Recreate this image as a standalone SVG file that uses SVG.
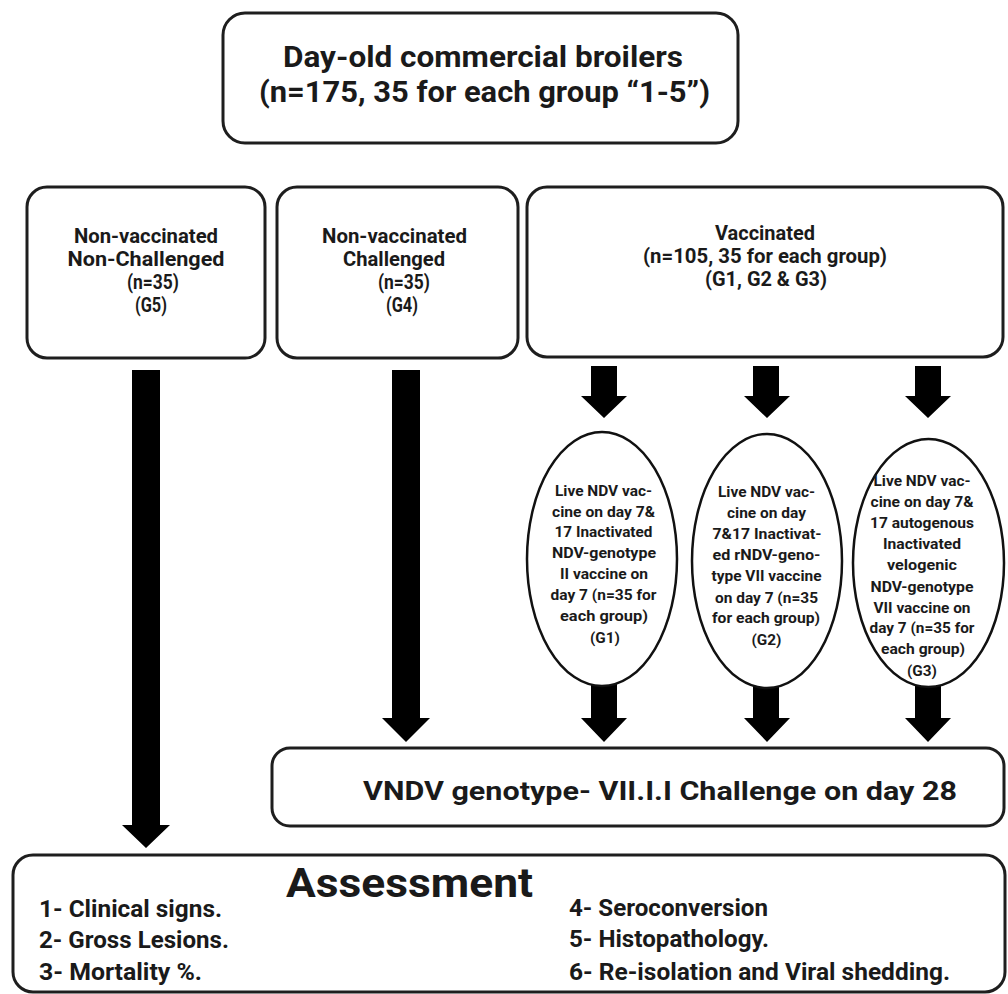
<svg xmlns="http://www.w3.org/2000/svg" width="1008" height="994" viewBox="0 0 1008 994">
<style>
  .box { fill: #fff; stroke: #1e1e1e; stroke-width: 3; }
  .ell { fill: #fff; stroke: #111; stroke-width: 2.5; }
  .arr { fill: #000; }
  text { font-family: Roboto, "Liberation Sans", "DejaVu Sans", sans-serif; font-weight: 700; fill: #1a1a1a; }
  .c { text-anchor: middle; }
  .t1 { font-size: 30px; }
  .t2 { font-size: 21px; }
  .t3 { font-size: 15.5px; }
  .t4 { font-size: 26px; }
  .t5 { font-size: 40px; }
  .t6 { font-size: 23px; }
</style>
<rect width="1008" height="994" fill="#fff"/>

<g id="connectors">
  <polygon class="arr" points="132,370 160,370 160,825 170,825 146,848 122,825 132,825"/>
  <polygon class="arr" points="392,370 420,370 420,718 430,718 406,742 382,718 392,718"/>
  <polygon class="arr" points="591,366 617,366 617,396 627,396 604,418 581,396 591,396"/>
  <polygon class="arr" points="753,366 779,366 779,396 790,396 767,418 744,396 753,396"/>
  <polygon class="arr" points="915,366 941,366 941,396 951,396 928,418 905,396 915,396"/>
  <polygon class="arr" points="591,680 617,680 617,718 627,718 604,742 581,718 591,718"/>
  <polygon class="arr" points="753,680 779,680 779,718 790,718 767,742 744,718 753,718"/>
  <polygon class="arr" points="915,680 941,680 941,718 951,718 928,742 905,718 915,718"/>
</g>

<g id="start">
  <rect class="box" x="223" y="13" width="515" height="130" rx="22"/>
  <text class="c t1" x="483" y="67" textLength="400" lengthAdjust="spacingAndGlyphs">Day-old commercial broilers</text>
  <text class="c t1" x="484.5" y="102" textLength="451" lengthAdjust="spacingAndGlyphs">(n=175, 35 for each group “1-5”)</text>
</g>

<g id="g5">
  <rect class="box" x="27" y="187" width="238" height="171" rx="20"/>
  <text class="c t2" x="146" y="243" textLength="144" lengthAdjust="spacingAndGlyphs">Non-vaccinated</text>
  <text class="c t2" x="146" y="266" textLength="157" lengthAdjust="spacingAndGlyphs">Non-Challenged</text>
  <text class="c t2" x="153" y="289" textLength="52" lengthAdjust="spacingAndGlyphs">(n=35)</text>
  <text class="c t2" x="151" y="312" textLength="32" lengthAdjust="spacingAndGlyphs">(G5)</text>
</g>

<g id="g4">
  <rect class="box" x="277" y="187" width="241" height="171" rx="20"/>
  <text class="c t2" x="394.5" y="243" textLength="145" lengthAdjust="spacingAndGlyphs">Non-vaccinated</text>
  <text class="c t2" x="394" y="266" textLength="102" lengthAdjust="spacingAndGlyphs">Challenged</text>
  <text class="c t2" x="404" y="289" textLength="52" lengthAdjust="spacingAndGlyphs">(n=35)</text>
  <text class="c t2" x="402" y="312" textLength="32" lengthAdjust="spacingAndGlyphs">(G4)</text>
</g>

<g id="vaccinated">
  <rect class="box" x="527" y="187" width="476" height="170" rx="20"/>
  <text class="c t2" x="765" y="240" textLength="100" lengthAdjust="spacingAndGlyphs">Vaccinated</text>
  <text class="c t2" x="765" y="263" textLength="244" lengthAdjust="spacingAndGlyphs">(n=105, 35 for each group)</text>
  <text class="c t2" x="766" y="286" textLength="122" lengthAdjust="spacingAndGlyphs">(G1, G2 &amp; G3)</text>
</g>

<g id="g1">
  <ellipse class="ell" cx="602" cy="559" rx="75" ry="127"/>
  <text class="c t3" x="603.5" y="496" textLength="97" lengthAdjust="spacingAndGlyphs">Live NDV vac-</text>
  <text class="c t3" x="603.5" y="517" textLength="103" lengthAdjust="spacingAndGlyphs">cine on day 7&amp;</text>
  <text class="c t3" x="603.5" y="537" textLength="98" lengthAdjust="spacingAndGlyphs">17 Inactivated</text>
  <text class="c t3" x="604" y="558" textLength="104" lengthAdjust="spacingAndGlyphs">NDV-genotype</text>
  <text class="c t3" x="604" y="579" textLength="88" lengthAdjust="spacingAndGlyphs">II vaccine on</text>
  <text class="c t3" x="603.5" y="600" textLength="106" lengthAdjust="spacingAndGlyphs">day 7 (n=35 for</text>
  <text class="c t3" x="604" y="621" textLength="88" lengthAdjust="spacingAndGlyphs">each group)</text>
  <text class="c t3" x="605" y="643" textLength="30" lengthAdjust="spacingAndGlyphs">(G1)</text>
</g>

<g id="g2">
  <ellipse class="ell" cx="767" cy="561" rx="75" ry="127"/>
  <text class="c t3" x="766.5" y="497" textLength="97" lengthAdjust="spacingAndGlyphs">Live NDV vac-</text>
  <text class="c t3" x="766.5" y="518" textLength="79" lengthAdjust="spacingAndGlyphs">cine on day</text>
  <text class="c t3" x="767" y="539" textLength="109" lengthAdjust="spacingAndGlyphs">7&amp;17 Inactivat-</text>
  <text class="c t3" x="766.5" y="560" textLength="108" lengthAdjust="spacingAndGlyphs">ed rNDV-geno-</text>
  <text class="c t3" x="766.5" y="581" textLength="110" lengthAdjust="spacingAndGlyphs">type VII vaccine</text>
  <text class="c t3" x="766.5" y="603" textLength="103" lengthAdjust="spacingAndGlyphs">on day 7 (n=35</text>
  <text class="c t3" x="766" y="623" textLength="108" lengthAdjust="spacingAndGlyphs">for each group)</text>
  <text class="c t3" x="766.5" y="645" textLength="30" lengthAdjust="spacingAndGlyphs">(G2)</text>
</g>

<g id="g3">
  <ellipse class="ell" cx="928.5" cy="563" rx="75.5" ry="124"/>
  <text class="c t3" x="922" y="486" textLength="97" lengthAdjust="spacingAndGlyphs">Live NDV vac-</text>
  <text class="c t3" x="922" y="507" textLength="103" lengthAdjust="spacingAndGlyphs">cine on day 7&amp;</text>
  <text class="c t3" x="922" y="528" textLength="104" lengthAdjust="spacingAndGlyphs">17 autogenous</text>
  <text class="c t3" x="922" y="549" textLength="78" lengthAdjust="spacingAndGlyphs">Inactivated</text>
  <text class="c t3" x="922" y="570" textLength="70" lengthAdjust="spacingAndGlyphs">velogenic</text>
  <text class="c t3" x="922" y="592" textLength="103" lengthAdjust="spacingAndGlyphs">NDV-genotype</text>
  <text class="c t3" x="922" y="613" textLength="97" lengthAdjust="spacingAndGlyphs">VII vaccine on</text>
  <text class="c t3" x="922" y="633" textLength="105" lengthAdjust="spacingAndGlyphs">day 7 (n=35 for</text>
  <text class="c t3" x="923" y="654" textLength="84" lengthAdjust="spacingAndGlyphs">each group)</text>
  <text class="c t3" x="922" y="676" textLength="30" lengthAdjust="spacingAndGlyphs">(G3)</text>
</g>

<g id="challenge">
  <rect class="box" x="272" y="748" width="732" height="78" rx="18"/>
  <text class="c t4" x="660" y="800" textLength="594" lengthAdjust="spacingAndGlyphs">VNDV genotype- VII.I.I Challenge on day 28</text>
</g>

<g id="assessment">
  <rect class="box" x="13" y="855" width="992" height="137" rx="20"/>
  <text class="c t5" x="409.5" y="897" textLength="247" lengthAdjust="spacingAndGlyphs">Assessment</text>
  <text class="t6" x="39" y="917" textLength="183" lengthAdjust="spacingAndGlyphs">1- Clinical signs.</text>
  <text class="t6" x="39" y="948" textLength="190" lengthAdjust="spacingAndGlyphs">2- Gross Lesions.</text>
  <text class="t6" x="39" y="980" textLength="163" lengthAdjust="spacingAndGlyphs">3- Mortality %.</text>
  <text class="t6" x="569" y="916" textLength="199" lengthAdjust="spacingAndGlyphs">4- Seroconversion</text>
  <text class="t6" x="569" y="947" textLength="200" lengthAdjust="spacingAndGlyphs">5- Histopathology.</text>
  <text class="t6" x="569" y="980" textLength="381" lengthAdjust="spacingAndGlyphs">6- Re-isolation and Viral shedding.</text>
</g>
</svg>
